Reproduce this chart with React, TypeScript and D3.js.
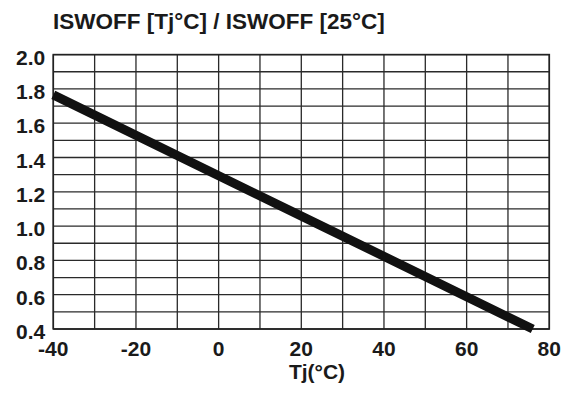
import React from "react";
import * as d3 from "d3";

const temps = [-40, 25, 76];
const ratio = [1.765, 1.0, 0.4];
const xTicks = [-40, -20, 0, 20, 40, 60, 80];
const yTicks = [0.4, 0.6, 0.8, 1.0, 1.2, 1.4, 1.6, 1.8, 2.0];
const xGrid = d3.range(-40, 81, 10);
const yGrid = d3.range(4, 21, 1).map((v) => v / 10);

const W = 570;
const H = 394;
const left = 53.3;
const right = 549.3;
const top = 54.6;
const bottom = 329;

export default function App() {
  const x = d3.scaleLinear().domain([-40, 80]).range([left, right]);
  const y = d3.scaleLinear().domain([0.4, 2.0]).range([bottom, top]);
  const pts = temps.map((t, i) => [t, ratio[i]] as [number, number]);
  const line = d3
    .line<[number, number]>()
    .x((d) => x(d[0]))
    .y((d) => y(d[1]));
  const font = "'Liberation Sans', Arial, Helvetica, sans-serif";
  return (
    <svg
      width={W}
      height={H}
      style={{ position: "absolute", left: 0, top: 0, background: "#fff" }}
      fontFamily={font}
      fontWeight="bold"
    >
      <rect width={W} height={H} fill="#fff" />
      <text x={53} y={28.5} fontSize={22.5} fill="#1a1a1a">
        ISWOFF [Tj°C] / ISWOFF [25°C]
      </text>
      <g stroke="#2a2a2a" strokeWidth={1.3}>
        {xGrid.map((v) => (
          <line key={"x" + v} x1={x(v)} x2={x(v)} y1={top} y2={bottom} />
        ))}
        {yGrid.map((v) => (
          <line key={"y" + v} x1={left} x2={right} y1={y(v)} y2={y(v)} />
        ))}
      </g>
      <rect
        x={left}
        y={top}
        width={right - left}
        height={bottom - top}
        fill="none"
        stroke="#222"
        strokeWidth={1.6}
      />
      <path d={line(pts) || ""} fill="none" stroke="#111" strokeWidth={9} />
      <g fontSize={21} fill="#1a1a1a">
        {yTicks.map((v) => (
          <text key={"yt" + v} x={left - 8} y={y(v) + 10} textAnchor="end">
            {v.toFixed(1)}
          </text>
        ))}
        {xTicks.map((v) => (
          <text key={"xt" + v} x={x(v)} y={355.5} textAnchor="middle">
            {v}
          </text>
        ))}
      </g>
      <text x={317} y={379} fontSize={21} textAnchor="middle" fill="#1a1a1a">
        Tj(°C)
      </text>
    </svg>
  );
}
